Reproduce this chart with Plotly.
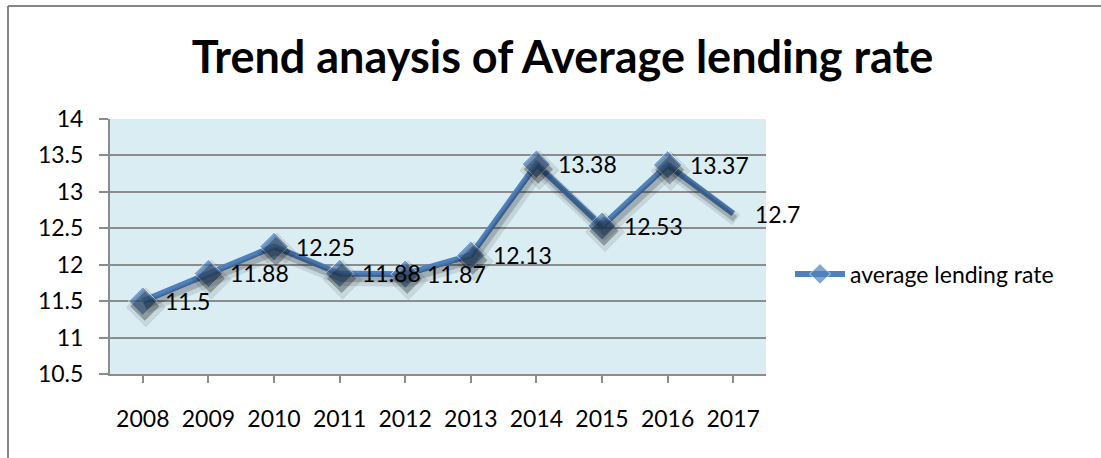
import plotly.graph_objects as go

# Average lending rate by year
years = ["2008", "2009", "2010", "2011", "2012", "2013", "2014", "2015", "2016", "2017"]
rates = [11.5, 11.88, 12.25, 11.88, 11.87, 12.13, 13.38, 12.53, 13.37, 12.7]
y_ticks = [10.5, 11, 11.5, 12, 12.5, 13, 13.5, 14]
series_name = "average lending rate"
chart_title = "Trend anaysis of Average lending rate"

W, H = 1101, 458
L, R, T, B = 110, 335, 119, 84
plot_w = W - L - R
plot_h = H - T - B

BLUE = "#4F81BD"
GRID = "#8C8C8C"
FONT = "Lato, Calibri, sans-serif"
TXT = 23

y_lo, y_hi = 10.5, 14.0
x_lo, x_hi = -0.5, len(years) - 0.5
xs = list(range(len(years)))


def shifted(px_x, px_y):
    """Axis ranges shifted by a pixel offset (for the drop shadow overlay)."""
    ddx = px_x * (x_hi - x_lo) / plot_w
    ddy = px_y * (y_hi - y_lo) / plot_h
    return [x_lo - ddx, x_hi - ddx], [y_lo + ddy, y_hi + ddy]


marker_sizes = [22] * (len(years) - 1) + [0]

fig = go.Figure()

# blurred drop shadow: a wide faint pass and a tighter darker pass
sx2, sy2 = shifted(3, 6)
sx3, sy3 = shifted(2, 5)
fig.add_trace(go.Scatter(
    x=xs, y=rates, mode="lines+markers",
    line=dict(color="rgba(0,0,0,0.10)", width=13),
    marker=dict(symbol="diamond", size=[s + 8 if s else 0 for s in marker_sizes],
                color="rgba(0,0,0,0.12)"),
    xaxis="x2", yaxis="y2", showlegend=False, hoverinfo="skip",
))
fig.add_trace(go.Scatter(
    x=xs, y=rates, mode="lines+markers",
    line=dict(color="rgba(0,0,0,0.18)", width=7),
    marker=dict(symbol="diamond", size=marker_sizes, color="rgba(0,0,0,0.40)"),
    xaxis="x3", yaxis="y3", showlegend=False, hoverinfo="skip",
))

fig.add_trace(go.Scatter(
    x=xs, y=rates,
    mode="lines+markers",
    name=series_name,
    line=dict(color=BLUE, width=6),
    marker=dict(symbol="diamond", size=marker_sizes, color=BLUE),
))

# value labels to the right of each point
for xi, v in zip(xs, rates):
    fig.add_annotation(
        x=xi, y=v, text=f"{v:g}", showarrow=False,
        xanchor="left", yanchor="middle", xshift=20,
        font=dict(family=FONT, size=TXT, color="#000000"),
    )

fig.update_layout(
    width=W, height=H,
    margin=dict(l=L, r=R, t=T, b=B, autoexpand=False),
    paper_bgcolor="white",
    plot_bgcolor="#DAEDF3",
    font=dict(family=FONT, size=TXT, color="#000000"),
    title=dict(
        text=f"<b>{chart_title}</b>",
        x=(193 + 932) / 2 / W, xanchor="center",
        y=1 - 57 / H, yanchor="middle",
        font=dict(family=FONT, size=45, color="#000000"),
    ),
    xaxis=dict(
        range=[x_lo, x_hi],
        tickmode="array",
        tickvals=xs,
        ticktext=years,
        tickson="boundaries",
        ticks="outside", ticklen=7, tickwidth=2, tickcolor=GRID,
        showline=True, linecolor=GRID, linewidth=2,
        showgrid=False, zeroline=False,
        ticklabelstandoff=16,
    ),
    yaxis=dict(
        range=[y_lo, y_hi],
        tickmode="array",
        tickvals=y_ticks,
        ticktext=[f"{v:g}" for v in y_ticks],
        ticks="outside", ticklen=9, tickwidth=2, tickcolor=GRID,
        showline=True, linecolor=GRID, linewidth=2,
        showgrid=True, gridcolor=GRID, gridwidth=2,
        zeroline=False,
        ticklabelstandoff=11,
    ),
    xaxis2=dict(range=sx2, overlaying="x", visible=False),
    yaxis2=dict(range=sy2, overlaying="y", visible=False),
    xaxis3=dict(range=sx3, overlaying="x", visible=False),
    yaxis3=dict(range=sy3, overlaying="y", visible=False),
    legend=dict(
        x=(790 - L) / plot_w, xanchor="left",
        y=(H - B - 274) / plot_h, yanchor="middle",
        font=dict(family=FONT, size=TXT),
        bgcolor="rgba(0,0,0,0)",
        itemwidth=50,
    ),
    showlegend=True,
)

# outer chart frame (top and left edges)
fig.add_shape(type="line", xref="paper", yref="paper",
              x0=(8 - L) / plot_w, x1=(W + 10 - L) / plot_w,
              y0=(H - B - 6) / plot_h, y1=(H - B - 6) / plot_h,
              line=dict(color="#868686", width=2))
fig.add_shape(type="line", xref="paper", yref="paper",
              x0=(8 - L) / plot_w, x1=(8 - L) / plot_w,
              y0=(H - B - 6) / plot_h, y1=(H - B - H - 10) / plot_h,
              line=dict(color="#868686", width=2))

fig.write_html("out.html")
